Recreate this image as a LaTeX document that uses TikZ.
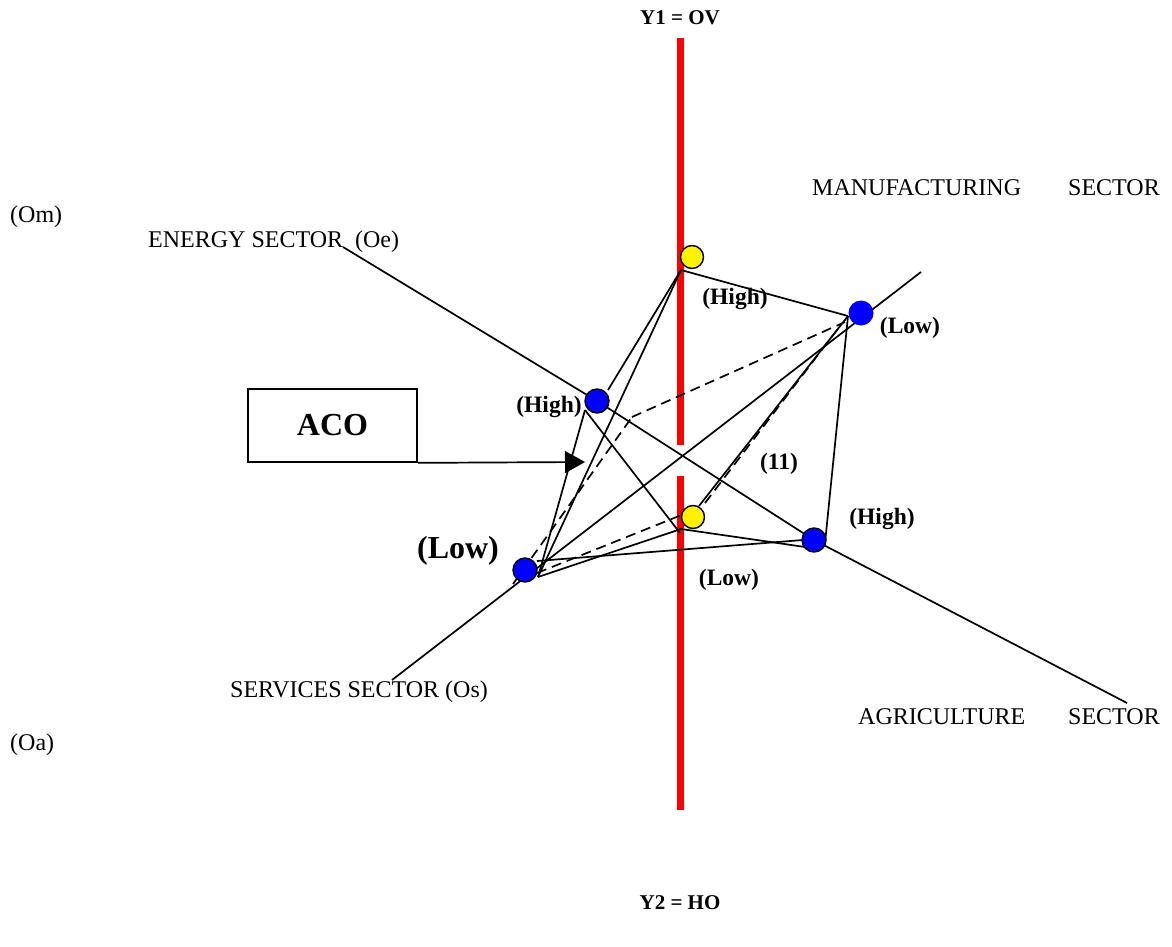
\documentclass[tikz,border=0pt]{standalone}
\usepackage{fontspec}
\setmainfont{Liberation Serif}
\usetikzlibrary{arrows.meta}
\begin{document}
\begin{tikzpicture}[x=1pt,y=-1pt,
  edge/.style={line width=1.7pt, black},
  hid/.style={edge, dash pattern=on 10pt off 6pt},
  redaxis/.style={line width=7pt, red},
  ball/.style={circle, draw=black, line width=1.4pt, minimum size=23pt, inner sep=0pt},
  lbl/.style={font=\fontsize{24}{28}\selectfont, inner sep=0pt},
  blbl/.style={font=\bfseries\fontsize{23.5}{27}\selectfont, inner sep=0pt},
  ylbl/.style={font=\bfseries\fontsize{21}{25}\selectfont, inner sep=0pt},
  box/.style={draw=black, line width=1.7pt, minimum width=169pt, minimum height=73pt, font=\bfseries\fontsize{32}{36}\selectfont}]
\useasboundingbox (0,0) rectangle (1172,947);
\fill[white] (0,0) rectangle (1172,947);

% red vertical axis
\coordinate (r1a) at (680,38);
\coordinate (r1b) at (680,445);
\coordinate (r2a) at (680,476);
\coordinate (r2b) at (680,810);
\draw[redaxis] (r1a) -- (r1b);
\draw[redaxis] (r2a) -- (r2b);

% vertices
\coordinate (T) at (681,270);
\coordinate (B) at (681,529);
\coordinate (Bl) at (684,514);
\coordinate (Br) at (699,506);
\coordinate (Bd) at (705,503);
\coordinate (E) at (585,410);
\coordinate (Et) at (608,390);
\coordinate (EB) at (680,533);
\coordinate (M) at (848,316);
\coordinate (Md) at (840,326);
\coordinate (Mh) at (845,322);
\coordinate (A) at (825,543);
\coordinate (Al) at (803,540);
\coordinate (Ab) at (805,547);
\coordinate (S) at (538,577);
\coordinate (St) at (537,561);
\coordinate (Sd) at (537,573);
\coordinate (Sh) at (513,584);
\coordinate (H) at (632,417);

% axis ends
\coordinate (Oe) at (343,247);
\coordinate (Oa) at (1127,703);
\coordinate (Os) at (392,680);
\coordinate (Om) at (921,272);

% circle centres
\coordinate (cT) at (692,257);
\coordinate (cB) at (693,517);
\coordinate (cE) at (597,401);
\coordinate (cA) at (814,540);
\coordinate (cS) at (525,570);
\coordinate (cM) at (861,313);

% axes
\draw[edge] (Oe) -- (cE) -- (cA) -- (Oa);
\draw[edge] (Os) -- (Om);

% solid edges
\draw[edge] (T) -- (M);
\draw[edge] (T) -- (Et);
\draw[edge] (T) -- (S);
\draw[edge] (E) -- (S);
\draw[edge] (E) -- (EB);
\draw[edge] (S) -- (B);
\draw[edge] (B) -- (Ab);
\draw[edge] (St) -- (Al);
\draw[edge] (M) -- (A);
\draw[edge] (Br) -- (M);

% hidden edges
\draw[hid] (Sh) -- (H);
\draw[hid] (H) -- (Mh);
\draw[hid] (Sd) -- (Bl);
\draw[hid] (Bd) -- (Md);

% ACO box and arrow
\node[box] (aco) at (332.5,425.5) {ACO};
\coordinate (acotip) at (585,462);
\draw[edge, -{Triangle[length=20pt,width=22pt]}] (aco.south east) -- (acotip);

% balls
\node[ball, fill=yellow] (bT) at (cT) {};
\node[ball, fill=yellow] (bB) at (cB) {};
\node[ball, fill=blue, minimum size=24pt] (bE) at (cE) {};
\node[ball, fill=blue, minimum size=24pt] (bA) at (cA) {};
\node[ball, fill=blue, minimum size=24pt] (bS) at (cS) {};
\node[circle, fill=blue, minimum size=25pt, inner sep=0pt] (bM) at (cM) {};

% labels
\node[blbl] (lT) at (735,299) {(High)};
\node[blbl] (lM) at (910,328) {(Low)};
\node[blbl] (lE) at (549,407) {(High)};
\node[blbl] (l11) at (779,464) {(11)};
\node[blbl] (lA) at (882,519) {(High)};
\node[blbl] (lB) at (729,580) {(Low)};
\node[font=\bfseries\fontsize{32}{36}\selectfont, inner sep=0pt] (lS) at (458,551) {(Low)};

\node[ylbl] (y1) at (680,18) {Y1 = OV};
\node[ylbl] (y2) at (680,903) {Y2 = HO};

\node[lbl, anchor=west] (om) at (10,217) {(Om)};
\node[lbl, anchor=west] (oa) at (10,745) {(Oa)};
\node[lbl, anchor=west] (en) at (148,242) {ENERGY SECTOR\ \ (Oe)};
\node[lbl, anchor=west] (mf) at (812,188) {MANUFACTURING};
\node[lbl, anchor=east] (mfs) at (1160,188) {SECTOR};
\node[lbl, anchor=west] (ag) at (858,717) {AGRICULTURE};
\node[lbl, anchor=east] (ags) at (1160,717) {SECTOR};
\node[lbl, anchor=west] (sv) at (230,692) {SERVICES SECTOR (Os)};
\end{tikzpicture}
\end{document}
